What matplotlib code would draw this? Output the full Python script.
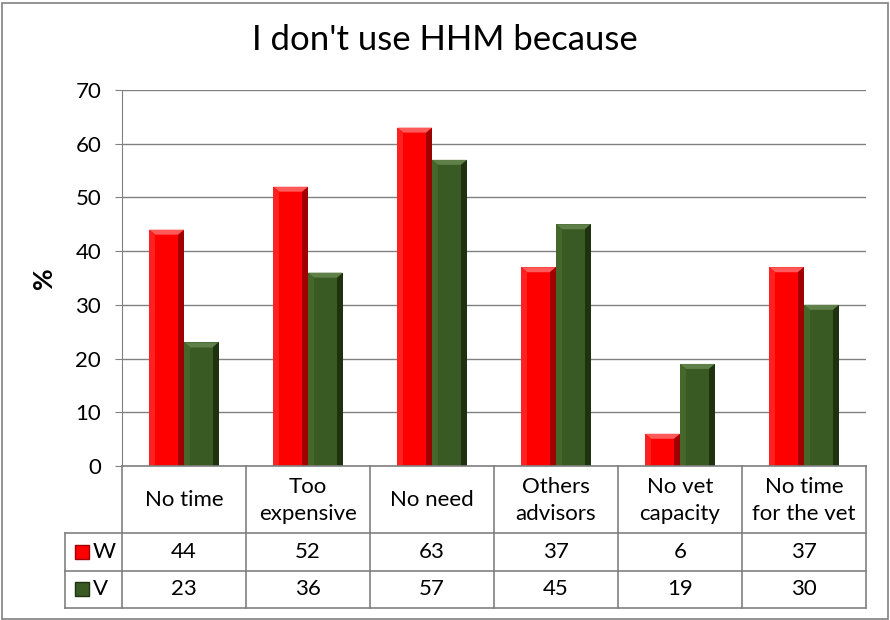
import matplotlib
matplotlib.use("Agg")
import matplotlib.pyplot as plt
from matplotlib.patches import Polygon, Rectangle
import numpy as np

categories = ["No time", "Too\nexpensive", "No need", "Others\nadvisors",
              "No vet\ncapacity", "No time\nfor the vet"]
series_names = ["W", "V"]
w_values = [44, 52, 63, 37, 6, 37]
v_values = [23, 36, 57, 45, 19, 30]
yticks = [0, 10, 20, 30, 40, 50, 60, 70]

colors = {"W": ("#ff0000", "#ff5a5a", "#a00000", "#ff2020"),
          "V": ("#3a5a24", "#5f8048", "#1e3210", "#44672c")}

plt.rcParams["font.family"] = ["Lato", "DejaVu Sans"]

W, H = 890, 620
fig = plt.figure(figsize=(W / 100, H / 100), dpi=100)
fig.patch.set_facecolor("white")
fig.add_artist(Rectangle((1.5 / W, 1.5 / H), (W - 4) / W, (H - 4) / H,
                         transform=fig.transFigure, fill=False,
                         edgecolor="#808080", linewidth=1.2))

left, right, ytop, ybot = 122, 866, 90, 466
ax = fig.add_axes([left / W, 1 - ybot / H, (right - left) / W, (ybot - ytop) / H])
ax.set_xlim(-0.5, len(categories) - 0.5)
ax.set_ylim(0, 70)
ax.set_yticks(yticks)
ax.tick_params(axis="y", labelsize=16, length=5, color="#808080", pad=10)
ax.tick_params(axis="x", bottom=False, labelbottom=False)
for s in ["top", "right", "bottom"]:
    ax.spines[s].set_visible(False)
ax.spines["left"].set_color("#808080")
ax.yaxis.grid(True, color="#808080", linewidth=1)
ax.set_axisbelow(True)
ax.set_ylabel("%", fontsize=19, fontweight="bold", labelpad=14)

x = np.arange(len(categories))
bw = 0.28
bev_x = 6 / (right - left) * len(categories)
bev_y = 5 / (ybot - ytop) * 70


def bevel_bars(bars, key):
    base, light, dark, mid = colors[key]
    for b in bars:
        x0, y0 = b.get_x(), b.get_y()
        x1, y1 = x0 + b.get_width(), y0 + b.get_height()
        dy = min(bev_y, b.get_height() / 2)
        # top facet
        ax.add_patch(Polygon([(x0, y1), (x1, y1), (x1 - bev_x, y1 - dy), (x0 + bev_x, y1 - dy)],
                             closed=True, facecolor=light, edgecolor="none", zorder=3))
        # right facet
        ax.add_patch(Polygon([(x1, y1), (x1, y0), (x1 - bev_x, y0), (x1 - bev_x, y1 - dy)],
                             closed=True, facecolor=dark, edgecolor="none", zorder=3))
        # left facet
        ax.add_patch(Polygon([(x0, y1), (x0, y0), (x0 + bev_x, y0), (x0 + bev_x, y1 - dy)],
                             closed=True, facecolor=mid, edgecolor="none", zorder=3))


bars_w = ax.bar(x - bw / 2, w_values, bw, color=colors["W"][0], zorder=2)
bars_v = ax.bar(x + bw / 2, v_values, bw, color=colors["V"][0], zorder=2)
bevel_bars(bars_w, "W")
bevel_bars(bars_v, "V")

fig.text(W / 2 / W, 1 - 40 / H, "I don't use HHM because", ha="center", va="center",
         fontsize=25)

# data table below the plot
tleft, tbot = 65, 608
rows = [ybot, 533, 571, tbot]
tax = fig.add_axes([left / W, 1 - tbot / H, (right - left) / W, (tbot - ybot) / H])
tax.set_xlim(-0.5, len(categories) - 0.5)
tax.set_ylim(tbot, ybot)
tax.axis("off")
lx = -0.5 - (left - tleft) / (right - left) * len(categories)
lc = "#808080"
kw = dict(color=lc, linewidth=1.2, clip_on=False)
# vertical lines
for i in range(len(categories) + 1):
    tax.plot([i - 0.5, i - 0.5], [rows[0], rows[3]], **kw)
tax.plot([lx, lx], [rows[1], rows[3]], **kw)
tax.plot([-0.5, len(categories) - 0.5], [rows[0], rows[0]], **kw)
for r in rows[1:]:
    tax.plot([lx, len(categories) - 0.5], [r, r], **kw)

for i, c in enumerate(categories):
    tax.text(i, (rows[0] + rows[1]) / 2 + 1, c, ha="center", va="center", fontsize=16,
             linespacing=1.4)
for j, (name, vals) in enumerate(zip(series_names, [w_values, v_values])):
    yc = (rows[j + 1] + rows[j + 2]) / 2
    for i, v in enumerate(vals):
        tax.text(i, yc, str(v), ha="center", va="center", fontsize=16)
    kx = lx + 10 / (right - left) * len(categories)
    ks = 14 / (right - left) * len(categories)
    tax.add_patch(Rectangle((kx, yc + 7), ks, -14, facecolor=colors[name][0],
                            edgecolor=colors[name][2], linewidth=1, clip_on=False))
    tax.text(kx + ks + 4 / (right - left) * len(categories), yc, name,
             ha="left", va="center", fontsize=16)

fig.savefig("out.png", dpi=100, facecolor="white")
